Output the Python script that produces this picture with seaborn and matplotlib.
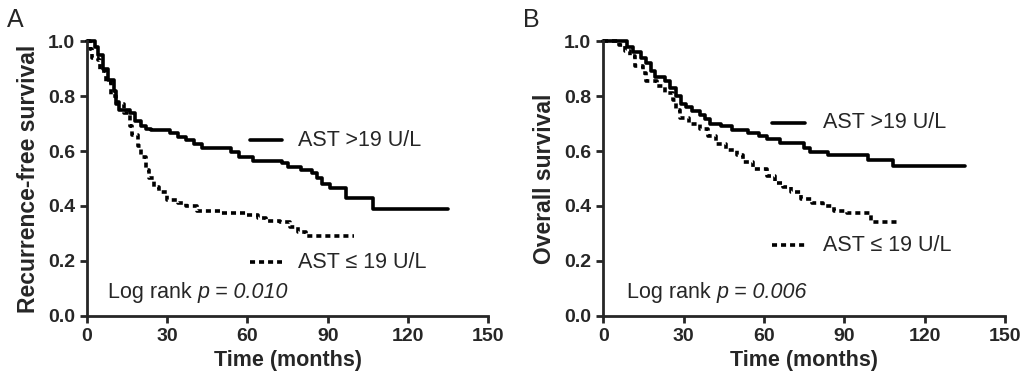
import pandas as pd
import matplotlib
matplotlib.use("Agg")
import matplotlib.pyplot as plt
import seaborn as sns

# Kaplan-Meier step values (time in months, survival)
rfs_high_t = [0, 3, 4, 6, 8, 10, 11, 12, 16, 18, 20, 22, 24, 31, 34, 37, 40, 43, 54, 57, 62, 73, 75, 80, 84, 86, 88, 91, 97, 107, 135]
rfs_high_s = [1.0, 0.98, 0.95, 0.90, 0.86, 0.82, 0.78, 0.75, 0.74, 0.71, 0.69, 0.68, 0.675, 0.665, 0.65, 0.64, 0.625, 0.61, 0.595, 0.58, 0.565, 0.555, 0.54, 0.53, 0.52, 0.50, 0.48, 0.465, 0.43, 0.39, 0.39]
rfs_low_t = [0, 1, 2, 4, 5, 7, 9, 11, 14, 16, 17, 19, 20, 22, 23, 25, 27, 30, 34, 37, 41, 50, 60, 64, 67, 72, 76, 79, 82, 100]
rfs_low_s = [1.0, 0.97, 0.94, 0.93, 0.89, 0.85, 0.80, 0.77, 0.74, 0.69, 0.66, 0.62, 0.58, 0.53, 0.50, 0.47, 0.45, 0.42, 0.41, 0.40, 0.38, 0.375, 0.367, 0.356, 0.345, 0.34, 0.325, 0.305, 0.29, 0.29]

os_high_t = [0, 9, 11, 14, 16, 18, 19.5, 23, 25, 27, 29, 31, 33, 36, 38, 40, 44, 48, 54, 58, 61, 66, 75, 77, 84, 99, 108, 135]
os_high_s = [1.0, 0.98, 0.96, 0.94, 0.92, 0.89, 0.87, 0.855, 0.83, 0.80, 0.77, 0.76, 0.745, 0.73, 0.715, 0.70, 0.69, 0.676, 0.665, 0.655, 0.645, 0.628, 0.61, 0.597, 0.585, 0.567, 0.545, 0.545]
os_low_t = [0, 6, 8, 10, 12, 15, 16, 20, 23, 26, 27, 28.5, 32, 36, 39, 42, 46, 50, 52, 56, 61, 64, 67, 70, 74, 78, 82, 86, 91, 100, 110]
os_low_s = [1.0, 0.985, 0.965, 0.945, 0.91, 0.885, 0.855, 0.835, 0.81, 0.785, 0.75, 0.72, 0.70, 0.68, 0.655, 0.625, 0.605, 0.585, 0.56, 0.535, 0.51, 0.485, 0.47, 0.45, 0.425, 0.41, 0.40, 0.38, 0.375, 0.34, 0.34]

x_ticks = [0, 30, 60, 90, 120, 150]
y_ticks = [0.0, 0.2, 0.4, 0.6, 0.8, 1.0]
label_high = "AST >19 U/L"
label_low = "AST \u2264 19 U/L"

sns.set_style("ticks")
plt.rcParams["font.family"] = ["Liberation Sans", "DejaVu Sans"]


def make_df(ht, hs, lt, ls):
    a = pd.DataFrame({"time": ht, "surv": hs, "group": "high"})
    b = pd.DataFrame({"time": lt, "surv": ls, "group": "low"})
    return pd.concat([a, b], ignore_index=True)


fig = plt.figure(figsize=(10.24, 3.91), dpi=100)
axA = fig.add_axes([0.085, 0.192, 0.3916, 0.703])
axB = fig.add_axes([0.589, 0.192, 0.3926, 0.703])

panels = [
    (axA, make_df(rfs_high_t, rfs_high_s, rfs_low_t, rfs_low_s), "Recurrence-free survival", "A",
     "0.010", (7.9, 0.084), (61, 73, 0.64), (61, 73, 0.196), 79),
    (axB, make_df(os_high_t, os_high_s, os_low_t, os_low_s), "Overall survival", "B",
     "0.006", (9.0, 0.084), (63, 75.5, 0.702), (63, 75.5, 0.258), 82),
]

dash_pat = (1.4, 1.1)
lw = 2.6

for ax, df, ylab, letter, pval, lr_pos, leg_hi, leg_lo, txt_x in panels:
    sns.lineplot(data=df, x="time", y="surv", style="group",
                 dashes={"high": "", "low": dash_pat}, color="black",
                 lw=lw, drawstyle="steps-post", estimator=None, sort=False,
                 legend=False, ax=ax, clip_on=False)
    ax.set_xlim(0, 150)
    ax.set_ylim(0, 1.0)
    ax.set_xticks(x_ticks)
    ax.set_yticks(y_ticks)
    ax.set_yticklabels([f"{v:.1f}" for v in y_ticks])
    ax.tick_params(length=5, width=2, labelsize=14, direction="out")
    for lab in ax.get_xticklabels() + ax.get_yticklabels():
        lab.set_fontweight("bold")
    for side in ["left", "bottom"]:
        ax.spines[side].set_linewidth(2)
    sns.despine(ax=ax)
    ax.set_xlabel("Time (months)", fontsize=15.5, fontweight="bold", labelpad=4)
    ax.set_ylabel(ylab, fontsize=16.5, fontweight="bold", labelpad=6)
    ax.set_title(letter, loc="left", x=-0.2, y=1.02, fontsize=18)

    # legend keys and labels
    ax.plot([leg_hi[0], leg_hi[1]], [leg_hi[2], leg_hi[2]], color="black", lw=lw)
    ax.plot([leg_lo[0], leg_lo[1]], [leg_lo[2], leg_lo[2]], color="black", lw=lw,
            dashes=dash_pat)
    ax.text(txt_x, leg_hi[2], label_high, fontsize=15.5, va="center")
    ax.text(txt_x, leg_lo[2], label_low, fontsize=15.5, va="center")

    t1 = ax.text(lr_pos[0], lr_pos[1], "Log rank ", fontsize=15.5, va="center")
    ax.annotate(f"p = {pval}", xy=(1, 0), xycoords=t1, xytext=(0, 0),
                textcoords="offset points", fontsize=15.5, style="italic",
                va="bottom")

fig.savefig("out.png", dpi=100, facecolor="white")
